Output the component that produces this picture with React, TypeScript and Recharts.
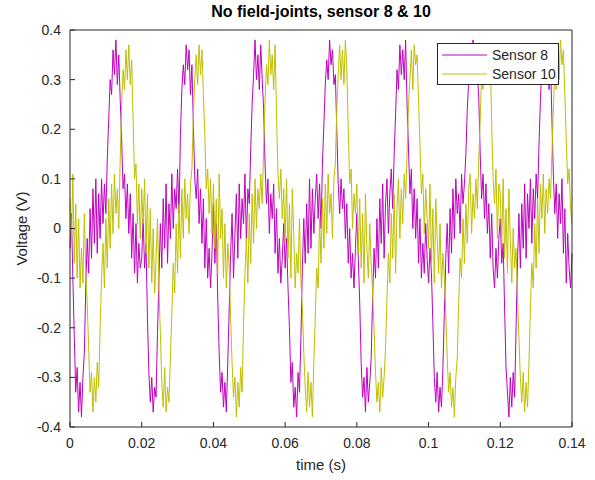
import { LineChart, Line, XAxis, YAxis, Legend } from 'recharts';

const TITLE = 'No field-joints, sensor 8 & 10';
const FONT = "'Liberation Sans', Arial, Helvetica, sans-serif";
const AXIS_COLOR = '#262626';

// sample spacing of the recorded traces (s)
const DT = 0.0004;

const X_TICKS = [0, 0.02, 0.04, 0.06, 0.08, 0.1, 0.12, 0.14];
const Y_TICKS = [-0.4, -0.3, -0.2, -0.1, 0, 0.1, 0.2, 0.3, 0.4];

// Sensor 8, one row per 0.02 s
const SENSOR_8 = [
  -0.04, 0.03, -0.10, -0.22, -0.33, -0.28, -0.37, -0.31, -0.38, -0.30, -0.25, -0.12, -0.02, -0.09, 0.04, -0.06, 0.08, -0.03, 0.10, -0.05, 0.07, -0.02, 0.10, 0.01, 0.09, 0.03, 0.14, 0.22, 0.30, 0.27, 0.36, 0.31, 0.38, 0.29, 0.35, 0.26, 0.18, 0.08, 0.11, 0.02, 0.09, -0.01, 0.07, -0.06, 0.03, -0.09, 0.01, -0.11, -0.03, -0.08,
  -0.06, 0.02, -0.08, -0.03, -0.18, -0.29, -0.35, -0.30, -0.37, -0.32, -0.34, -0.21, -0.10, 0.01, -0.08, 0.06, -0.04, 0.09, -0.07, 0.05, -0.02, 0.11, 0.00, 0.08, 0.04, 0.12, 0.03, 0.19, 0.28, 0.33, 0.29, 0.37, 0.32, 0.36, 0.27, 0.33, 0.21, 0.10, 0.06, 0.12, 0.01, 0.08, -0.03, 0.06, -0.08, 0.02, -0.10, -0.04, -0.12, -0.05,
  0.05, -0.07, 0.01, -0.14, -0.25, -0.33, -0.29, -0.36, -0.31, -0.37, -0.27, -0.16, -0.05, 0.03, -0.10, -0.01, 0.07, -0.06, 0.09, -0.02, 0.06, 0.01, 0.11, -0.03, 0.08, 0.05, 0.16, 0.25, 0.31, 0.38, 0.30, 0.35, 0.28, 0.37, 0.30, 0.24, 0.13, 0.05, 0.10, -0.01, 0.07, 0.02, 0.09, -0.05, 0.04, -0.09, -0.02, -0.11, -0.06, 0.01,
  -0.08, -0.02, -0.12, -0.20, -0.31, -0.27, -0.36, -0.32, -0.38, -0.29, -0.33, -0.22, -0.08, 0.02, -0.07, 0.05, -0.05, 0.10, -0.04, 0.08, -0.01, 0.06, 0.11, 0.02, 0.09, 0.00, 0.13, 0.21, 0.29, 0.34, 0.30, 0.38, 0.33, 0.36, 0.29, 0.31, 0.20, 0.09, 0.03, 0.10, 0.04, 0.08, -0.02, 0.05, -0.07, 0.00, -0.10, -0.05, -0.12, -0.04,
  0.03, -0.06, -0.15, -0.27, -0.34, -0.30, -0.37, -0.28, -0.35, -0.31, -0.26, -0.14, -0.04, -0.10, 0.02, -0.08, 0.06, -0.03, 0.09, -0.06, 0.05, 0.10, -0.01, 0.07, 0.12, 0.04, 0.15, 0.23, 0.32, 0.28, 0.37, 0.31, 0.36, 0.30, 0.38, 0.25, 0.16, 0.07, 0.12, 0.00, 0.08, -0.02, 0.06, -0.07, 0.02, -0.10, -0.03, -0.09, 0.01, -0.06,
  -0.11, -0.04, -0.09, -0.19, -0.30, -0.35, -0.29, -0.37, -0.32, -0.36, -0.28, -0.17, -0.06, 0.01, -0.09, 0.04, -0.05, 0.08, -0.02, 0.10, 0.03, 0.07, -0.01, 0.11, 0.05, 0.09, 0.15, 0.24, 0.30, 0.36, 0.31, 0.38, 0.29, 0.35, 0.32, 0.26, 0.15, 0.06, 0.11, 0.02, 0.09, -0.01, 0.05, -0.06, 0.03, -0.08, -0.12, -0.04, -0.10, -0.02,
  0.02, -0.07, -0.03, -0.16, -0.28, -0.33, -0.38, -0.30, -0.36, -0.29, -0.34, -0.20, -0.07, 0.03, -0.08, 0.05, -0.04, 0.09, -0.06, 0.07, 0.00, 0.10, -0.03, 0.08, 0.02, 0.11, 0.06, 0.17, 0.26, 0.33, 0.29, 0.37, 0.31, 0.36, 0.28, 0.34, 0.22, 0.11, 0.03, 0.09, -0.02, 0.07, 0.01, 0.10, -0.05, 0.04, -0.11, -0.01, -0.08, -0.12,
  -0.05,
];

// Sensor 10, same sampling
const SENSOR_10 = [
  0.06, -0.03, 0.11, -0.07, 0.05, -0.10, 0.02, -0.12, -0.04, -0.11, 0.03, -0.09, -0.15, -0.24, -0.33, -0.29, -0.37, -0.30, -0.35, -0.27, -0.32, -0.20, -0.10, -0.03, -0.12, 0.02, -0.08, 0.06, -0.04, 0.09, -0.01, 0.11, 0.03, 0.08, 0.00, 0.14, 0.25, 0.32, 0.28, 0.36, 0.30, 0.37, 0.29, 0.34, 0.22, 0.10, 0.13, 0.01, 0.09, -0.02,
  0.08, 0.01, 0.10, -0.05, 0.07, -0.08, 0.04, -0.11, 0.00, -0.13, -0.06, 0.02, -0.12, -0.21, -0.31, -0.36, -0.28, -0.37, -0.32, -0.35, -0.26, -0.17, -0.07, -0.13, 0.01, -0.09, 0.05, -0.06, 0.08, -0.02, 0.10, 0.02, 0.07, -0.01, 0.09, 0.12, 0.23, 0.30, 0.35, 0.29, 0.37, 0.31, 0.36, 0.27, 0.19, 0.08, 0.12, 0.03, 0.10, -0.01,
  0.09, -0.04, 0.06, -0.09, 0.11, -0.02, 0.04, -0.10, 0.01, -0.12, -0.03, -0.08, -0.18, -0.27, -0.34, -0.30, -0.38, -0.31, -0.36, -0.28, -0.33, -0.19, -0.09, -0.02, -0.11, 0.03, -0.07, 0.07, -0.03, 0.10, 0.00, 0.08, 0.04, 0.11, 0.05, 0.16, 0.26, 0.33, 0.29, 0.38, 0.31, 0.35, 0.28, 0.37, 0.23, 0.11, 0.06, 0.12, 0.02, 0.08,
  -0.03, 0.10, -0.06, 0.05, -0.10, 0.08, -0.01, -0.12, -0.05, -0.09, 0.02, -0.11, -0.16, -0.25, -0.32, -0.37, -0.29, -0.36, -0.31, -0.38, -0.27, -0.18, -0.08, -0.12, 0.02, -0.07, 0.06, -0.04, 0.09, -0.01, 0.11, 0.03, 0.07, -0.02, 0.10, 0.13, 0.24, 0.31, 0.37, 0.30, 0.36, 0.29, 0.38, 0.32, 0.20, 0.09, 0.12, 0.00, 0.07, 0.03,
  0.09, -0.05, 0.06, -0.08, 0.03, -0.11, 0.07, -0.04, -0.10, 0.01, -0.07, -0.13, -0.20, -0.29, -0.35, -0.31, -0.37, -0.28, -0.34, -0.30, -0.24, -0.14, -0.05, -0.11, 0.03, -0.06, 0.07, -0.09, 0.04, 0.10, -0.02, 0.08, 0.01, 0.11, 0.06, 0.15, 0.25, 0.30, 0.36, 0.28, 0.37, 0.33, 0.35, 0.26, 0.17, 0.07, 0.11, -0.01, 0.08, 0.02,
  -0.04, 0.09, -0.07, 0.04, -0.11, 0.06, -0.02, -0.09, 0.01, -0.12, -0.05, -0.10, -0.17, -0.26, -0.33, -0.29, -0.36, -0.32, -0.38, -0.30, -0.26, -0.15, -0.06, -0.10, 0.02, -0.07, 0.05, -0.03, 0.08, 0.11, -0.01, 0.07, 0.02, 0.10, 0.04, 0.14, 0.22, 0.31, 0.28, 0.36, 0.30, 0.37, 0.29, 0.35, 0.21, 0.10, 0.05, 0.12, -0.02, 0.09,
  0.07, -0.03, 0.10, -0.06, 0.04, -0.09, 0.08, -0.02, -0.11, 0.00, -0.08, -0.04, -0.14, -0.22, -0.30, -0.35, -0.29, -0.37, -0.31, -0.36, -0.27, -0.16, -0.07, -0.12, 0.01, -0.08, 0.06, -0.05, 0.09, 0.02, 0.11, -0.01, 0.08, 0.03, 0.10, 0.06, 0.15, 0.24, 0.32, 0.28, 0.37, 0.30, 0.38, 0.33, 0.36, 0.27, 0.18, 0.09, 0.12, 0.04,
  0.01,
];

// each trace sits on its own pair of axes (same domains) so the box gets all four sides
const SERIES = [
  { key: 's8', name: 'Sensor 8', color: '#bf00bf', xAxisId: 'bottom', yAxisId: 'left' },
  { key: 's10', name: 'Sensor 10', color: '#bfbf00', xAxisId: 'top', yAxisId: 'right' },
];

const rows = SENSOR_8.map((v, i) => ({
  t: +(i * DT).toFixed(4),
  s8: v,
  s10: SENSOR_10[i],
}));

const fmt = (v: number) => String(Math.round(v * 100) / 100);

const tickStyle = { fill: AXIS_COLOR, fontSize: 14, fontFamily: FONT };

function LegendBox() {
  return (
    <div
      style={{
        boxSizing: 'border-box',
        width: 122,
        height: 42,
        border: `1px solid ${AXIS_COLOR}`,
        background: '#fff',
        padding: '1px 0 0 0',
        fontFamily: FONT,
        fontSize: 14,
        color: AXIS_COLOR,
        whiteSpace: 'nowrap',
      }}
    >
      {SERIES.map((s) => (
        <div key={s.key} style={{ display: 'flex', alignItems: 'center', height: 19 }}>
          <svg width={54} height={10} style={{ display: 'block', flex: 'none' }}>
            <line x1={4} x2={49} y1={5} y2={5} stroke={s.color} strokeWidth={1} />
          </svg>
          <span>{s.name}</span>
        </div>
      ))}
    </div>
  );
}

export default function App() {
  return (
    <div style={{ width: 595, height: 480, background: '#fff' }}>
      <style>{'body{margin:0;background:#fff}'}</style>
      <LineChart
        width={595}
        height={480}
        data={rows}
        margin={{ top: 29, right: 22, bottom: 0, left: 0 }}
      >
        <XAxis
          xAxisId="bottom"
          dataKey="t"
          type="number"
          domain={[0, 0.14]}
          ticks={X_TICKS}
          tickFormatter={fmt}
          height={53}
          stroke={AXIS_COLOR}
          tickSize={-5}
          tickMargin={16}
          tick={tickStyle}
          label={{ value: 'time (s)', position: 'insideBottom', offset: 10, fill: AXIS_COLOR, fontSize: 15, fontFamily: FONT }}
        />
        <XAxis
          xAxisId="top"
          dataKey="t"
          orientation="top"
          type="number"
          domain={[0, 0.14]}
          ticks={X_TICKS}
          height={1}
          stroke={AXIS_COLOR}
          tickSize={-5}
          tick={false}
          label={{ value: TITLE, position: 'top', offset: 12, fill: '#000', fontSize: 16, fontWeight: 'bold', fontFamily: FONT }}
        />
        <YAxis
          yAxisId="left"
          type="number"
          domain={[-0.4, 0.4]}
          ticks={Y_TICKS}
          tickFormatter={fmt}
          width={70}
          stroke={AXIS_COLOR}
          tickSize={-5}
          tickMargin={14}
          tick={tickStyle}
          label={{ value: 'Voltage (V)', angle: -90, position: 'insideLeft', offset: 22, fill: AXIS_COLOR, fontSize: 15, fontFamily: FONT, style: { textAnchor: 'middle' } }}
        />
        <YAxis
          yAxisId="right"
          orientation="right"
          type="number"
          domain={[-0.4, 0.4]}
          ticks={Y_TICKS}
          width={1}
          stroke={AXIS_COLOR}
          tickSize={-5}
          tick={false}
        />
        <Legend
          layout="vertical"
          align="center"
          verticalAlign="middle"
          content={<LegendBox />}
          wrapperStyle={{ left: 437, top: 43, width: 122 }}
        />
        {SERIES.map((s) => (
          <Line
            key={s.key}
            xAxisId={s.xAxisId}
            yAxisId={s.yAxisId}
            dataKey={s.key}
            name={s.name}
            type="linear"
            stroke={s.color}
            strokeWidth={1}
            dot={false}
            activeDot={false}
            isAnimationActive={false}
          />
        ))}
      </LineChart>
    </div>
  );
}
